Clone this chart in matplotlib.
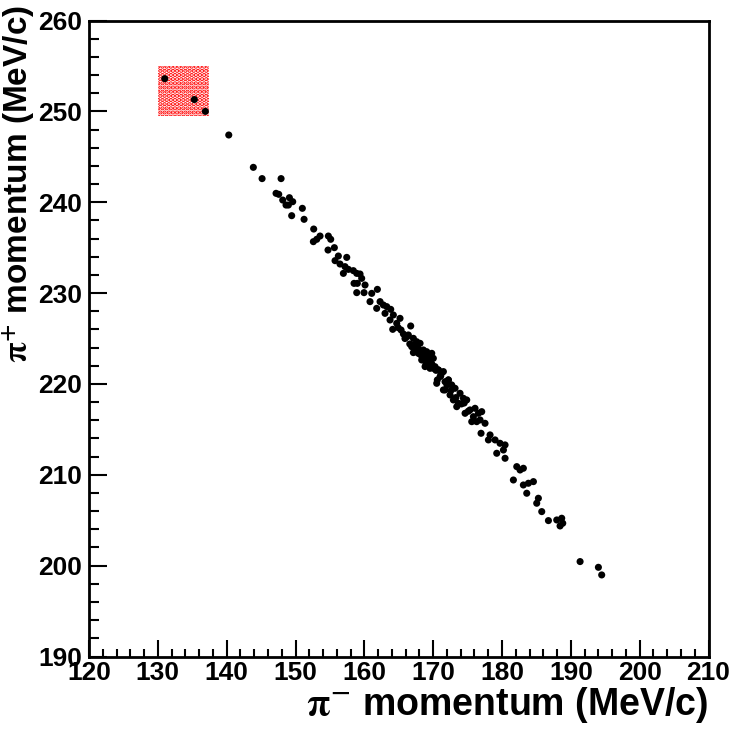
import matplotlib
matplotlib.use("Agg")
import matplotlib.pyplot as plt
from matplotlib.patches import Rectangle
from matplotlib.ticker import MultipleLocator

plt.rcParams['font.family'] = ['Liberation Sans', 'DejaVu Sans']
plt.rcParams['font.weight'] = 'bold'
plt.rcParams['mathtext.fontset'] = 'stix'
plt.rcParams['hatch.linewidth'] = 2.2
plt.rcParams['hatch.color'] = 'red'

# pi- / pi+ momenta of selected events (MeV/c)
p_minus = [131.0, 135.3, 136.9, 140.3, 143.87, 145.14, 147.9, 147.17, 147.56, 148.14,
           149.11, 149.59, 148.62, 148.96, 150.99, 149.44, 151.24, 152.64, 153.56, 152.59,
           153.08, 154.77, 155.11, 155.64, 154.72, 156.22, 157.44, 155.74, 156.46, 157.19,
           157.68, 158.4, 158.89, 159.37, 159.61, 156.95, 158.5, 158.98, 160.1, 158.89,
           159.95, 161.07, 161.89, 160.82, 162.28, 162.76, 161.79, 163.25, 163.83, 163.0,
           164.21, 163.73, 164.7, 165.18, 164.12, 165.33, 165.67, 166.39, 166.73, 167.12,
           167.6, 168.09, 166.88, 167.36, 167.85, 168.57, 169.06, 169.54, 170.02, 168.33,
           168.96, 169.54, 170.27, 170.75, 171.24, 170.6, 171.72, 172.2, 171.72,
           167.12, 168.09, 169.06, 169.79, 168.58, 169.54, 170.03, 170.75, 171.48, 168.82,
           170.51, 171.48, 171.0, 172.21, 172.69, 173.18, 173.9, 172.45, 172.93, 173.66,
           174.39, 174.87, 173.42, 174.63, 175.35, 176.08, 176.57, 177.05, 175.84, 176.81,
           175.6, 176.32, 177.53, 176.95, 178.26, 178.02, 178.99, 179.71, 180.44, 179.23,
           180.44, 180.2, 182.14, 183.1, 182.62, 181.65, 183.1, 183.83, 184.56, 183.59,
           185.28, 185.04, 185.77, 186.74, 187.95, 188.67, 188.82, 188.43, 191.34, 194.0,
           194.48,
           165.9, 166.2, 166.6, 167.0, 167.4, 167.8, 168.2, 168.5, 168.8, 169.2,
           169.8, 170.4, 171.1, 172.0, 172.6, 173.3, 174.1, 174.5, 175.1, 164.9]
p_plus = [253.6, 251.3, 250.0, 247.4, 243.84, 242.6, 242.6, 240.98, 240.87, 240.24,
          240.5, 240.06, 239.69, 239.69, 239.33, 238.52, 238.12, 237.05, 236.28, 235.66,
          235.92, 236.28, 235.92, 235.0, 234.74, 234.08, 233.93, 233.57, 233.2, 232.91,
          232.61, 232.47, 232.17, 232.1, 231.62, 232.17, 231.07, 231.07, 230.89, 230.05,
          230.05, 229.97, 230.41, 229.06, 229.06, 228.69, 228.32, 228.51, 228.21, 227.77,
          227.59, 227.04, 226.67, 227.22, 226.01, 225.94, 225.5, 225.39, 226.38, 225.02,
          224.65, 224.47, 224.1, 223.74, 223.37, 223.74, 223.55, 223.19, 222.82, 222.64,
          222.09, 221.72, 221.9, 221.54, 221.24, 220.44, 220.25, 220.44, 219.34,
          223.45, 223.3, 223.08, 223.37, 222.64, 222.46, 221.72, 221.54, 221.36, 221.91,
          220.07, 219.34, 220.81, 220.44, 219.89, 219.52, 218.97, 218.79, 218.24, 217.87,
          218.42, 218.24, 217.5, 216.77, 217.14, 217.32, 216.77, 216.95, 216.4, 216.04,
          215.85, 215.85, 215.67, 214.57, 214.39, 213.84, 213.84, 213.47, 213.29, 212.37,
          211.82, 212.73, 210.9, 210.72, 210.53, 209.43, 208.88, 209.07, 209.25, 207.97,
          207.42, 206.87, 205.95, 204.96, 205.03, 205.22, 204.67, 204.37, 200.45, 199.82,
          198.98,
          225.0, 225.2, 224.4, 224.3, 224.0, 223.9, 223.2, 223.0, 222.6, 222.9,
          222.2, 221.5, 220.9, 219.9, 219.3, 218.5, 217.8, 217.9, 217.0, 226.2]

# signal window (MeV/c)
box_x = [130.0, 137.5]
box_y = [249.5, 255.0]

fig = plt.figure(figsize=(7.34, 7.38), dpi=100)
ax = fig.add_axes([0.1213, 0.1104, 0.8440, 0.8618])

ax.add_patch(Rectangle((box_x[0], box_y[0]), box_x[1] - box_x[0], box_y[1] - box_y[0],
                       facecolor='none', edgecolor='red', hatch='....', linewidth=0, zorder=1))

ax.scatter(p_minus, p_plus, s=26, c='black', edgecolors='none', zorder=3)

ax.set_xlim(120, 210)
ax.set_ylim(190, 260)
ax.xaxis.set_major_locator(MultipleLocator(10))
ax.xaxis.set_minor_locator(MultipleLocator(2))
ax.yaxis.set_major_locator(MultipleLocator(10))
ax.yaxis.set_minor_locator(MultipleLocator(2))
ax.tick_params(axis='x', which='major', direction='in', length=12, width=1.5, labelsize=19, pad=3)
ax.tick_params(axis='x', which='minor', direction='in', length=6, width=1.5)
ax.tick_params(axis='y', which='major', direction='in', length=13, width=1.5, labelsize=19, pad=5)
ax.tick_params(axis='y', which='minor', direction='in', length=7, width=1.5)
for sp in ax.spines.values():
    sp.set_linewidth(2)

ax.set_xlabel(r'$\mathrm{\pi}^{-}$ momentum (MeV/c)', fontsize=27, fontweight='bold', loc='right', labelpad=0)
ax.set_ylabel(r'$\mathrm{\pi}^{+}$ momentum (MeV/c)', fontsize=24, fontweight='bold',
              ha='right', va='center')
ax.yaxis.set_label_coords(-0.113, 1.024)

plt.savefig('out.png', dpi=100)
